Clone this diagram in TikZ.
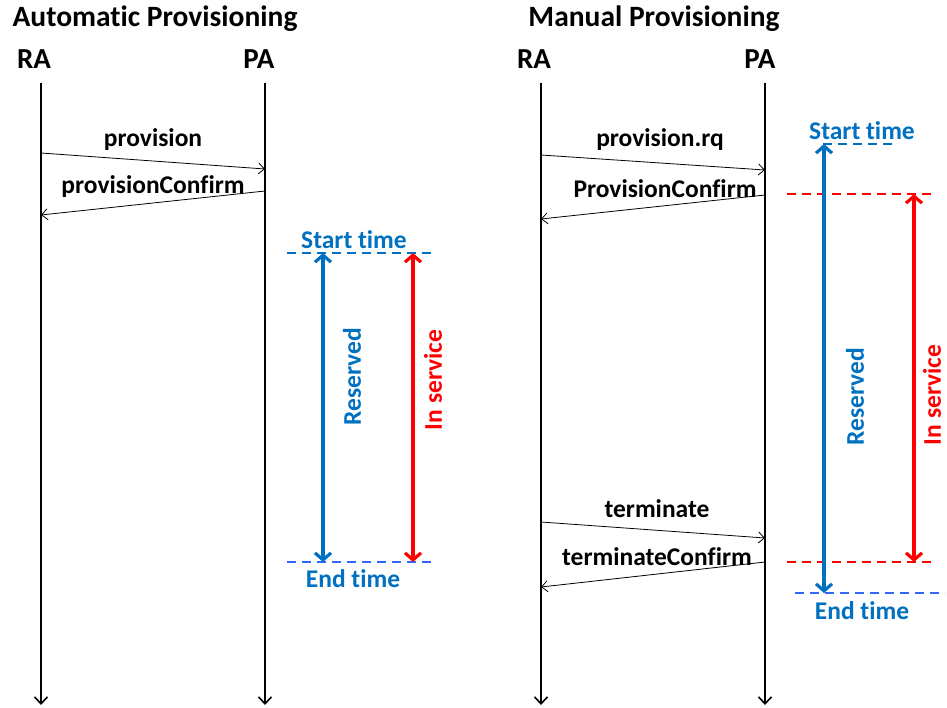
\documentclass[tikz,border=0pt]{standalone}
\usepackage{fontspec}
\setmainfont{Carlito}[Ligatures=NoCommon]
\usetikzlibrary{arrows.meta}
\definecolor{timeblue}{RGB}{0,112,192}
\definecolor{endblue}{RGB}{51,102,255}
\definecolor{servred}{RGB}{255,0,0}
\begin{document}
\begin{tikzpicture}[x=1pt,y=-1pt,
  title node/.style={font=\fontsize{29.5}{33}\selectfont\bfseries,inner sep=0pt},
  agent node/.style={font=\fontsize{29}{33}\selectfont\bfseries,inner sep=0pt},
  msg node/.style={font=\fontsize{25.5}{29}\selectfont\bfseries,inner sep=0pt},
  time node/.style={font=\fontsize{25.5}{29}\selectfont\bfseries,inner sep=0pt,text=timeblue},
  life/.style={line width=1.6pt,-{Straight Barb[length=7pt,width=13pt]}},
  msg/.style={line width=0.8pt,-{Straight Barb[length=6pt,width=11pt]}},
  span/.style={line width=3.2pt,{Straight Barb[length=7pt,width=16pt]}-{Straight Barb[length=7pt,width=16pt]}},
  tick/.style={line width=1.3pt,dash pattern=on 9pt off 6pt}]

  \useasboundingbox (0,0) rectangle (947,707);

  % automatic provisioning
  \node[title node] (autot) at (155,19) {Automatic Provisioning};
  \node[agent node] (ra1) at (34,59) {RA};
  \node[agent node] (pa1) at (259,59) {PA};
  \coordinate (ra1s) at (41,83);  \coordinate (ra1e) at (41,705);
  \coordinate (pa1s) at (265,83); \coordinate (pa1e) at (265,705);
  \draw[life] (ra1s) -- (ra1e);
  \draw[life] (pa1s) -- (pa1e);

  \coordinate (a1) at (41,153);  \coordinate (a2) at (265,169);
  \coordinate (a3) at (265,191); \coordinate (a4) at (41,215);
  \path[msg] (a1) edge (a2) (a3) edge (a4);
  \node[msg node] (prov) at (153,140) {provision};
  \node[msg node] (provc) at (153,187) {provisionConfirm};

  \coordinate (s1l) at (287,253); \coordinate (s1r) at (432,253);
  \coordinate (e1l) at (287,562); \coordinate (e1r) at (436,562);
  \draw[tick,timeblue] (s1l) -- (s1r);
  \draw[tick,endblue] (e1l) -- (e1r);
  \node[time node] (start1) at (354,240) {Start time};
  \node[time node] (end1) at (353,579) {End time};
  \coordinate (rs1) at (323,253); \coordinate (re1) at (323,562);
  \coordinate (is1) at (413,253); \coordinate (ie1) at (413,562);
  \draw[span,timeblue] (rs1) -- (re1);
  \draw[span,servred] (is1) -- (ie1);
  \node[time node,rotate=90] (res1) at (352,377) {Reserved};
  \node[time node,rotate=90,text=servred] (serv1) at (433,380) {In service};

  % manual provisioning
  \node[title node] (mant) at (654,19) {Manual Provisioning};
  \node[agent node] (ra2) at (534,59) {RA};
  \node[agent node] (pa2) at (760,59) {PA};
  \coordinate (ra2s) at (541,83);  \coordinate (ra2e) at (541,705);
  \coordinate (pa2s) at (765,83);  \coordinate (pa2e) at (765,705);
  \draw[life] (ra2s) -- (ra2e);
  \draw[life] (pa2s) -- (pa2e);

  \coordinate (b1) at (541,155); \coordinate (b2) at (765,170);
  \coordinate (b3) at (765,195); \coordinate (b4) at (541,219);
  \coordinate (b5) at (541,522); \coordinate (b6) at (765,538);
  \coordinate (b7) at (765,562); \coordinate (b8) at (541,587);
  \path[msg] (b1) edge (b2) (b3) edge (b4) (b5) edge (b6) (b7) edge (b8);
  \node[msg node] (provrq) at (660,140) {provision.rq};
  \node[msg node] (provc2) at (665,189) {ProvisionConfirm};
  \node[msg node] (term) at (657,509) {terminate};
  \node[msg node] (termc) at (657,557) {terminateConfirm};

  \coordinate (s2l) at (823,144); \coordinate (s2r) at (895,144);
  \coordinate (r2l) at (787,194); \coordinate (r2r) at (937,194);
  \coordinate (r3l) at (787,562); \coordinate (r3r) at (937,562);
  \coordinate (e2l) at (795,593); \coordinate (e2r) at (945,593);
  \draw[tick,timeblue] (s2l) -- (s2r);
  \draw[tick,servred] (r2l) -- (r2r);
  \draw[tick,servred] (r3l) -- (r3r);
  \draw[tick,endblue] (e2l) -- (e2r);
  \node[time node] (start2) at (862,131) {Start time};
  \node[time node] (end2) at (862,611) {End time};
  \coordinate (rs2) at (824,144); \coordinate (re2) at (824,593);
  \coordinate (is2) at (914,194); \coordinate (ie2) at (914,562);
  \draw[span,timeblue] (rs2) -- (re2);
  \draw[span,servred] (is2) -- (ie2);
  \node[time node,rotate=90] (res2) at (855,397) {Reserved};
  \node[time node,rotate=90,text=servred] (serv2) at (932,395) {In service};
\end{tikzpicture}
\end{document}
